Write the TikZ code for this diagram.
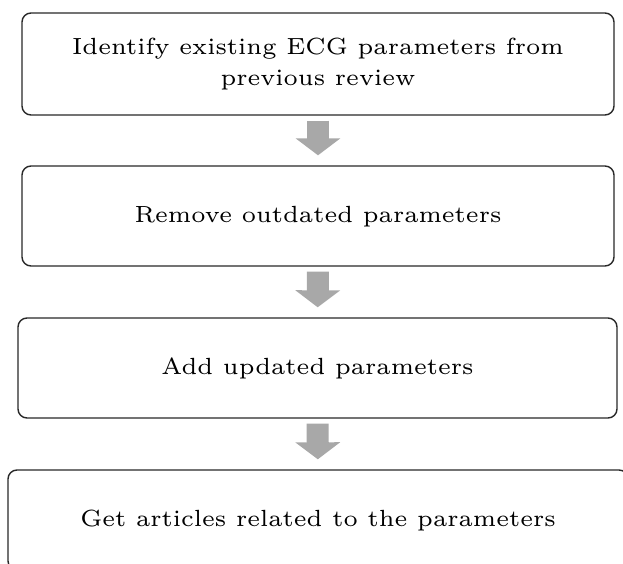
\documentclass[tikz,border=0pt]{standalone}
\usepackage{graphicx}
\usepackage{tikz}
\usetikzlibrary{arrows.meta, positioning}
\definecolor{arrowgray}{RGB}{168, 168, 168}
\definecolor{boxline}{RGB}{40, 40, 40}
% wide small-design text, blown up
\newcommand{\steptext}[1]{\scalebox{3.9}{\fontsize{6}{7.7}\selectfont\begin{tabular}{@{}c@{}}#1\end{tabular}}}

\begin{document}
\begin{tikzpicture}[x=1pt, y=-1pt,
    stepbox/.style={draw=boxline, line width=1.4pt, rounded corners=9pt, fill=white,
      align=center, inner sep=0pt},
    flow/.style={line width=22pt, arrowgray, shorten <=5pt, shorten >=10pt,
      -{Triangle[width=44pt, length=17pt]}}]
  \useasboundingbox (0, 0) rectangle (623, 564);
  \fill[white] (0, 0) rectangle (623, 564);

  % Steps
  \node[stepbox, minimum width=592pt, minimum height=102pt] (identify) at (318, 64)
    {\steptext{Identify existing ECG parameters from\\previous review}};
  \node[stepbox, minimum width=592pt, minimum height=100pt] (remove) at (318, 216)
    {\steptext{Remove outdated parameters}};
  \node[stepbox, minimum width=599pt, minimum height=100pt] (add) at (317.5, 368)
    {\steptext{Add updated parameters}};
  \node[stepbox, minimum width=620pt, minimum height=100pt] (articles) at (318, 520)
    {\steptext{Get articles related to the parameters}};

  % Block arrows
  \draw[flow] (identify) -- (remove);
  \draw[flow] (remove) -- (add);
  \draw[flow] (add) -- (articles);
\end{tikzpicture}
\end{document}
